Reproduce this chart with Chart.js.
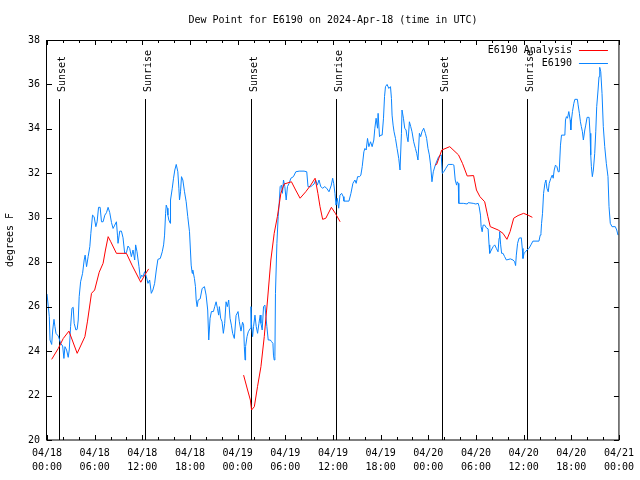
<!DOCTYPE html>
<html>
<head>
<meta charset="utf-8">
<script src="https://cdn.jsdelivr.net/npm/chart.js@4.4.1/dist/chart.umd.min.js"></script>
<style>
html,body{margin:0;padding:0;background:#fff;}
canvas{display:block;}
</style>
</head>
<body>
<canvas id="c" width="640" height="480"></canvas>
<script>
// ---- Data (hours since 2024-04-18 00:00 UTC) ----
const titleText = 'Dew Point for E6190 on 2024-Apr-18 (time in UTC)';
const yAxisTitle = 'degrees F';
const obsLabel = 'E6190';
const anaLabel = 'E6190 Analysis';

const xTickHours = [0,6,12,18,24,30,36,42,48,54,60,66,72];
const xTickDates = ['04/18','04/18','04/18','04/18','04/19','04/19','04/19','04/19','04/20','04/20','04/20','04/20','04/21'];
const xTickTimes = ['00:00','06:00','12:00','18:00','00:00','06:00','12:00','18:00','00:00','06:00','12:00','18:00','00:00'];
const yTicks = [20,22,24,26,28,30,32,34,36,38];

const eventHours = [1.54,12.33,25.63,36.41,49.71,60.37];
const eventLabels = ['Sunset','Sunrise','Sunset','Sunrise','Sunset','Sunrise'];

const obsHours = [0.00,0.29,0.38,0.59,0.72,0.88,1.00,1.13,1.42,1.72,1.97,2.13,2.26,2.47,2.67,2.80,2.97,3.14,3.30,3.42,3.64,3.80,3.93,4.05,4.23,4.48,4.68,4.80,4.98,5.18,5.39,5.52,5.73,5.93,6.15,6.31,6.49,6.69,6.86,7.06,7.28,7.49,7.69,7.90,8.12,8.32,8.53,8.74,8.87,8.94,9.16,9.37,9.57,9.78,10.00,10.20,10.41,10.62,10.83,11.04,11.16,11.33,11.58,11.75,11.92,12.08,12.29,12.51,12.71,12.92,13.13,13.33,13.55,13.76,13.96,14.26,14.51,14.68,14.80,14.93,15.01,15.14,15.22,15.34,15.52,15.55,15.77,15.93,16.09,16.27,16.47,16.60,16.68,16.81,16.93,17.10,17.31,17.52,17.72,17.94,18.15,18.28,18.35,18.56,18.69,18.78,18.90,19.03,19.28,19.53,19.82,20.03,20.23,20.36,20.53,20.70,20.95,21.11,21.29,21.45,21.61,21.70,21.86,22.04,22.20,22.37,22.54,22.70,22.87,23.04,23.21,23.37,23.58,23.80,24.05,24.21,24.42,24.62,24.75,24.84,24.93,25.00,25.18,25.34,25.59,25.68,25.75,25.88,26.00,26.18,26.34,26.51,26.68,26.84,26.93,27.09,27.26,27.43,27.56,27.68,27.85,28.11,28.26,28.44,28.51,28.60,28.69,28.76,28.94,29.10,29.23,29.35,29.52,29.64,29.77,29.94,30.11,30.27,30.48,30.70,31.02,31.32,31.74,32.36,32.70,32.86,33.20,33.45,33.62,33.83,34.03,34.24,34.46,34.71,34.96,35.21,35.50,35.79,35.96,36.09,36.25,36.38,36.54,36.72,36.88,37.09,37.29,37.38,38.01,38.26,38.51,38.76,38.92,39.10,39.35,39.51,39.68,39.89,40.02,40.18,40.35,40.52,40.73,40.93,41.14,41.27,41.43,41.61,41.68,41.86,42.02,42.19,42.36,42.49,42.61,42.81,43.03,43.24,43.36,43.44,43.57,43.69,43.87,44.07,44.28,44.44,44.62,44.69,44.87,45.03,45.20,45.32,45.45,45.62,45.79,45.95,46.16,46.38,46.54,46.70,46.88,47.04,47.20,47.42,47.63,47.79,47.96,48.13,48.29,48.46,48.63,48.88,49.13,49.30,49.63,49.76,49.96,50.21,50.51,50.72,51.05,51.22,51.39,51.56,51.65,51.77,51.84,52.40,52.90,53.02,53.65,53.98,54.28,54.40,54.57,54.65,54.78,54.90,55.10,55.31,55.53,55.65,55.73,55.94,56.16,56.36,56.57,56.78,56.91,56.98,57.11,57.23,57.41,57.61,57.83,58.33,58.67,58.87,58.99,59.08,59.24,59.42,59.71,59.83,59.92,60.05,60.25,60.42,60.67,60.92,61.17,61.93,62.09,62.18,62.26,62.38,62.51,62.68,62.81,62.93,63.10,63.22,63.43,63.60,63.72,63.85,64.01,64.19,64.35,64.48,64.64,64.77,65.19,65.27,65.39,65.52,65.69,65.86,65.94,66.02,66.15,66.32,66.45,66.77,66.86,67.02,67.15,67.27,67.40,67.52,67.70,67.82,67.99,68.24,68.36,68.45,68.53,68.65,68.78,68.95,69.08,69.20,69.37,69.49,69.58,69.71,69.87,70.03,70.21,70.41,70.62,70.75,70.91,71.13,71.54,71.72,71.88];
const obsDew = [26.57,25.55,24.5,24.3,24.95,25.43,25.1,24.8,24.68,24.35,24.23,23.67,24.2,24.05,23.72,24.05,25.1,25.93,25.97,25.25,24.95,24.98,25.4,26.45,27.12,27.5,28.1,28.32,27.8,28.25,28.7,29.3,30.12,30.05,29.6,29.82,30.47,30.47,29.82,29.82,30.12,30.23,30.47,30.23,29.78,29.52,29.67,29.82,29.22,28.85,29.4,29.4,29.1,28.4,28.43,28.73,28.62,28.25,28.55,28.1,28.78,28.47,27.8,27.27,27.42,27.35,27.57,27.35,27.05,27.2,26.6,26.75,27.05,27.65,28.13,28.17,28.47,28.78,29.22,30.2,30.57,30.43,30.12,29.9,29.75,30.8,31.33,31.78,32.15,32.4,32.07,31.33,30.8,31.17,31.85,31.7,31.17,30.72,30.05,29.37,27.87,27.5,27.65,27.27,26.9,26.3,26.0,26.3,26.35,26.82,26.9,26.52,25.85,24.5,25.48,25.78,25.78,26.0,26.22,25.93,25.62,26.0,25.48,25.32,24.8,25.25,26.22,26.0,26.3,25.48,25.17,24.8,24.57,25.6,25.78,25.32,24.9,25.3,25.17,24.2,23.6,24.2,24.65,24.87,25.02,26.0,25.17,24.65,25.1,25.62,25.1,24.8,25.25,25.62,25.25,24.95,26.0,26.07,25.55,25.1,24.5,24.5,24.43,24.35,23.82,23.6,23.75,26.6,28.85,30.05,30.65,31.4,31.47,31.1,31.7,31.4,30.8,31.4,31.55,31.78,31.85,32.07,32.1,32.1,32.07,31.4,31.4,31.47,31.52,31.7,31.47,31.7,31.4,31.33,31.4,31.33,31.17,31.47,31.78,31.55,31.1,30.57,30.88,30.43,31.02,31.1,30.95,30.75,30.75,31.1,31.55,31.7,31.55,31.85,31.85,31.92,32.3,32.97,33.12,33.05,33.57,33.2,33.42,33.2,33.5,34.03,34.48,34.03,34.7,33.65,33.72,33.72,34.48,35.45,35.9,36.0,35.82,35.9,35.37,34.62,34.17,33.87,33.57,33.12,32.67,32.15,33.8,34.85,34.48,34.03,33.95,33.65,33.42,34.32,34.1,33.87,33.42,33.12,32.9,32.6,33.8,33.65,33.87,34.03,33.8,33.57,33.12,32.83,32.37,31.62,32.07,32.37,32.6,32.75,32.83,32.0,32.07,32.23,32.4,32.4,32.4,32.37,31.7,31.47,31.62,31.55,30.65,30.65,30.62,30.68,30.65,30.62,30.65,30.5,30.12,29.6,29.37,29.67,29.67,29.55,29.5,28.78,28.4,28.55,28.7,28.78,28.62,28.47,29.08,29.37,28.78,28.4,28.4,28.25,28.1,28.15,28.1,28.02,27.85,28.32,28.85,29.08,29.1,28.62,28.17,28.4,28.47,28.55,28.62,28.78,28.95,28.95,29.22,29.3,29.75,30.2,31.1,31.55,31.7,31.33,31.17,31.55,31.78,31.92,31.78,32.15,32.37,32.3,32.07,32.07,33.27,33.72,33.72,34.4,34.55,34.48,34.78,34.4,33.95,34.4,34.78,35.15,35.33,35.33,35.08,34.7,34.32,34.1,33.87,33.5,33.95,34.17,34.52,34.52,33.8,32.83,32.3,31.85,32.15,32.9,33.87,35.0,35.75,36.35,36.77,36.57,35.6,34.1,33.2,32.45,31.85,30.5,29.75,29.6,29.6,29.45,29.22];

const anaHours = [0.59,1.42,2.05,2.76,3.8,4.77,5.1,5.6,6.0,6.57,7.06,7.36,7.7,8.03,8.74,10.0,10.7,11.8,12.3,12.8,
  18.0,
  24.75,25.25,25.6,25.75,26.1,26.5,26.93,27.35,27.76,28.18,28.6,29.0,29.44,29.85,30.77,31.3,31.86,32.57,33.2,33.75,34.1,34.37,34.7,35.1,35.8,36.3,36.9,
  42.0,
  48.88,49.05,49.7,50.7,51.8,52.3,52.9,53.7,54.06,54.5,55.1,55.5,55.8,56.8,57.4,57.9,58.3,58.75,59.3,60.0,60.55,61.1];
const anaDew = [23.63,24.12,24.57,24.9,23.9,24.65,25.35,26.6,26.75,27.55,27.95,28.55,29.15,28.92,28.4,28.4,27.87,27.1,27.42,27.7,
  null,
  22.92,22.25,21.8,21.35,21.5,22.4,23.3,24.65,26.3,28.1,29.3,30.05,31.1,31.52,31.62,31.25,30.88,31.17,31.47,31.78,31.1,30.5,29.93,29.98,30.47,30.2,29.82,
  null,
  32.37,32.4,33.05,33.2,32.83,32.45,31.88,31.9,31.25,30.95,30.72,30.05,29.6,29.45,29.3,29.03,29.38,29.98,30.1,30.2,30.12,30.02];

// ---- Chart ----
const FONT = '"DejaVu Sans Mono", "Liberation Mono", monospace';
Chart.defaults.font.family = FONT;
Chart.defaults.font.size = 10;
Chart.defaults.color = '#000';

const RED = '#ff0000';
const BLUE = '#0a84ff';

const decor = {
  id: 'decor',
  beforeDatasetsDraw(chart) {
    const {ctx, chartArea: a, scales: {x}} = chart;
    ctx.save();
    ctx.strokeStyle = '#000';
    ctx.lineWidth = 1;
    ctx.fillStyle = '#000';
    ctx.font = '10px ' + FONT;
    eventHours.forEach((h, i) => {
      const px = Math.round(x.getPixelForValue(h)) + 0.5;
      ctx.beginPath();
      ctx.moveTo(px, a.top + 59);
      ctx.lineTo(px, a.bottom);
      ctx.stroke();
      ctx.save();
      ctx.translate(px + 5.5, a.top + 52);
      ctx.rotate(-Math.PI / 2);
      ctx.textAlign = 'left';
      ctx.textBaseline = 'alphabetic';
      ctx.fillText(eventLabels[i], 0, 0);
      ctx.restore();
    });
    ctx.restore();
  },
  afterDraw(chart) {
    const {ctx, chartArea: a, scales: {x, y}} = chart;
    ctx.save();
    ctx.strokeStyle = '#000';
    ctx.lineWidth = 1;
    // frame
    ctx.strokeRect(a.left - 0.5, a.top + 0.5, a.right - a.left + 0.5, a.bottom - a.top - 0.5);
    // x ticks (major every 6h, minor every 2h), inward, bottom & top
    ctx.beginPath();
    for (let h = 0; h <= 72; h += 2) {
      const px = Math.round(x.getPixelForValue(h)) + 0.5;
      const len = xTickHours.includes(h) ? 5 : 3;
      ctx.moveTo(px, a.bottom); ctx.lineTo(px, a.bottom - len);
      ctx.moveTo(px, a.top); ctx.lineTo(px, a.top + len);
    }
    yTicks.forEach(v => {
      const py = Math.round(y.getPixelForValue(v)) + 0.5;
      ctx.moveTo(a.left, py); ctx.lineTo(a.left + 5, py);
      ctx.moveTo(a.right, py); ctx.lineTo(a.right - 5, py);
    });
    ctx.stroke();
    // title
    ctx.fillStyle = '#000';
    ctx.font = '10px ' + FONT;
    ctx.textAlign = 'center';
    ctx.textBaseline = 'middle';
    ctx.fillText(titleText, (a.left + a.right) / 2, 20);
    // legend
    ctx.textAlign = 'right';
    const ds = chart.data.datasets;
    ds.forEach((d, i) => {
      const ly = a.top + 10 + i * 13;
      ctx.fillStyle = '#000';
      ctx.fillText(d.label, a.right - 47, ly);
      ctx.strokeStyle = d.borderColor;
      ctx.beginPath();
      ctx.moveTo(a.right - 40, Math.round(ly) + 0.5);
      ctx.lineTo(a.right - 11, Math.round(ly) + 0.5);
      ctx.stroke();
    });
    ctx.restore();
  }
};

new Chart(document.getElementById('c'), {
  type: 'line',
  data: {
    datasets: [
      {
        label: anaLabel,
        data: anaHours.map((h, i) => ({x: h, y: anaDew[i]})),
        borderColor: RED,
        borderWidth: 1,
        pointRadius: 0,
        tension: 0,
        spanGaps: false
      },
      {
        label: obsLabel,
        data: obsHours.map((h, i) => ({x: h, y: obsDew[i]})),
        borderColor: BLUE,
        borderWidth: 1,
        pointRadius: 0,
        tension: 0
      }
    ]
  },
  options: {
    responsive: false,
    animation: false,
    devicePixelRatio: 1,
    layout: {padding: {top: 40, right: 19, left: 0, bottom: 0}},
    plugins: {legend: {display: false}, tooltip: {enabled: false}, title: {display: false}},
    scales: {
      x: {
        type: 'linear',
        min: 0, max: 72,
        grid: {display: false, drawTicks: false},
        border: {display: false},
        ticks: {
          stepSize: 6,
          autoSkip: false,
          maxRotation: 0,
          padding: 6,
          font: {size: 10, lineHeight: 1.4},
          callback: (v) => {
            const i = xTickHours.indexOf(v);
            return i < 0 ? '' : [xTickDates[i], xTickTimes[i]];
          }
        },
        afterFit: (s) => { s.height = 40; }
      },
      y: {
        min: 20, max: 38,
        grid: {display: false, drawTicks: false},
        border: {display: false},
        ticks: {stepSize: 2, padding: 7, autoSkip: false},
        title: {display: true, text: yAxisTitle, padding: {top: 4, bottom: 4}, font: {size: 10}},
        afterFit: (s) => { s.width = 47; }
      }
    }
  },
  plugins: [decor]
});
</script>
</body>
</html>
